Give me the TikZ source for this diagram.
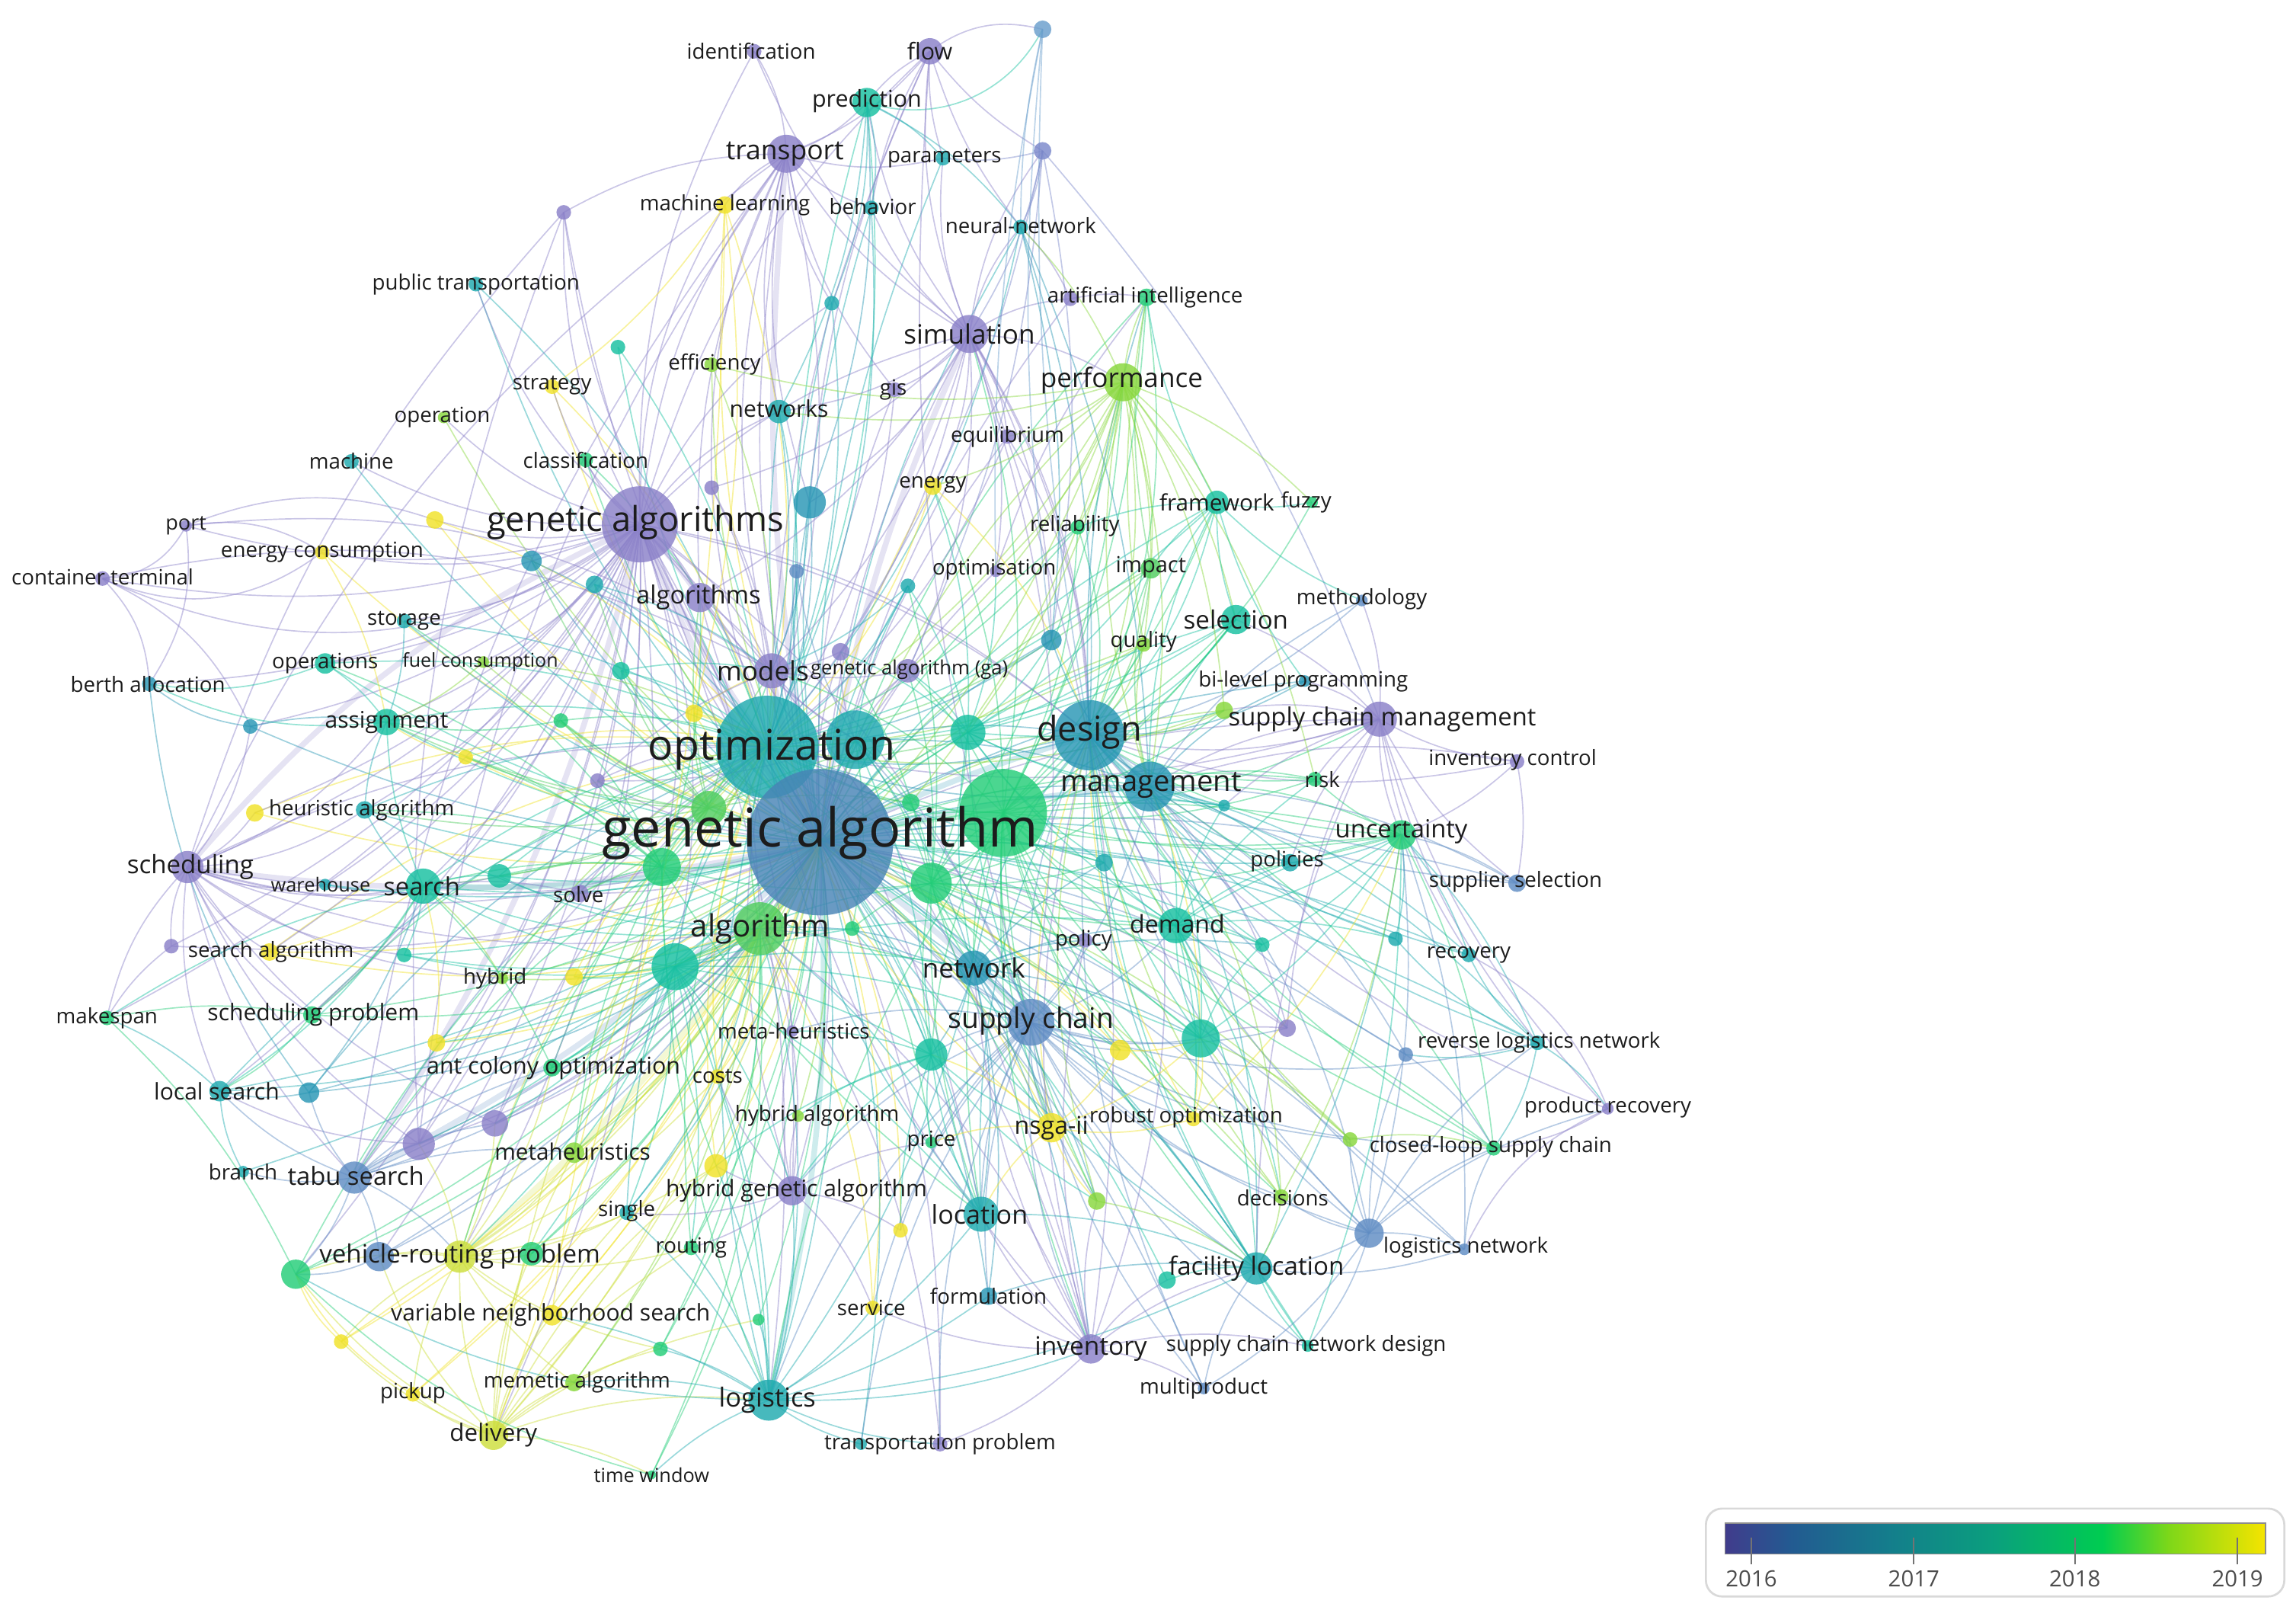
\documentclass[tikz,border=0pt]{standalone}
\usepackage{fontspec}
\setmainfont{Open Sans}
\pgfdeclarelayer{edges}
\pgfsetlayers{edges,main}
\definecolor{cP}{RGB}{138,128,200}
\definecolor{cP2}{RGB}{122,136,202}
\definecolor{cB}{RGB}{95,140,195}
\definecolor{cB2}{RGB}{105,158,204}
\definecolor{cGA}{RGB}{72,132,182}
\definecolor{cT}{RGB}{40,150,180}
\definecolor{cC}{RGB}{30,170,175}
\definecolor{cG1}{RGB}{22,192,160}
\definecolor{cG}{RGB}{35,205,120}
\definecolor{cGL}{RGB}{80,205,95}
\definecolor{cL}{RGB}{135,215,60}
\definecolor{cYL}{RGB}{205,222,60}
\definecolor{cY}{RGB}{240,226,40}
\definecolor{labtext}{RGB}{28,28,28}
\definecolor{s0}{RGB}{65,60,140}
\definecolor{s1}{RGB}{35,90,145}
\definecolor{s2}{RGB}{20,125,140}
\definecolor{s3}{RGB}{10,160,125}
\definecolor{s4}{RGB}{0,205,80}
\definecolor{s5}{RGB}{125,215,25}
\definecolor{s6}{RGB}{245,228,0}
\newcommand\kw[5]{\colorlet{k#1}{#5}\node[dot,minimum size=#4*0.04cm,fill=k#1] (#1) at (#2,#3) {};}
\newcommand\lb[5]{\node[lab,font=\fontsize{#4pt}{#4pt}\selectfont] (L#1) at (#2,#3) {#5};}
\newcommand\hub[3]{\foreach \q in {#3}{\draw[ed,draw=k\q] (#1.center) to[bend left=#2] (\q.center);}}
\newcommand\hubc[3]{\foreach \q in {#3}{\draw[ed,draw=k#1] (#1.center) to[bend left=#2] (\q.center);}}
\begin{document}
\begin{tikzpicture}[x=0.02cm,y=-0.02cm,
  dot/.style={circle,inner sep=0pt,draw=none,fill opacity=0.82},
  lab/.style={inner sep=0pt,text=labtext},
  ed/.style={line width=0.5pt,draw opacity=0.45},
  thk/.style={line width=2.2pt,draw opacity=0.22}]
\useasboundingbox (0,0) rectangle (1568,1099);
% ---------------- nodes ----------------
\kw{ident}{515}{35}{5}{cP}
\kw{flow}{635}{35}{9}{cP}
\kw{tr1}{712}{20}{6}{cB2}
\kw{pred}{592}{70}{10}{cG1}
\kw{transp}{537}{105}{13}{cP}
\kw{param}{644}{108}{5}{cC}
\kw{tr2}{712}{103}{6}{cP2}
\kw{ml}{495}{140}{6}{cY}
\kw{behav}{595}{142}{5}{cC}
\kw{neural}{697}{155}{5}{cC}
\kw{u1}{385}{145}{5}{cP}
\kw{pubt}{325}{194}{5}{cC}
\kw{u2}{568}{207}{5}{cC}
\kw{aip}{731}{204}{5}{cP}
\kw{ai}{783}{203}{6}{cG}
\kw{u3}{422}{237}{5}{cG1}
\kw{simul}{662}{228}{13}{cP}
\kw{effic}{486}{249}{5}{cL}
\kw{strat}{377}{264}{5}{cY}
\kw{gis}{611}{266}{5}{cP}
\kw{perf}{767}{261}{13}{cL}
\kw{operat}{303}{285}{4}{cL}
\kw{netw}{532}{281}{8}{cC}
\kw{equil}{688}{298}{5}{cP}
\kw{mach}{240}{315}{5}{cC}
\kw{classif}{400}{314}{5}{cG}
\kw{energy}{637}{332}{6}{cY}
\kw{u4}{486}{333}{5}{cP}
\kw{u5}{553}{343}{11}{cT}
\kw{frame}{831}{343}{8}{cG1}
\kw{fuzzy}{896}{343}{4}{cG}
\kw{port}{127}{359}{4}{cP}
\kw{u6}{297}{355}{6}{cY}
\kw{gas}{437}{358}{26}{cP}
\kw{reliab}{736}{360}{5}{cG}
\kw{encons}{220}{377}{5}{cY}
\kw{u7}{363}{383}{7}{cT}
\kw{cont}{70}{395}{5}{cP}
\kw{u8}{406}{399}{6}{cC}
\kw{u9}{544}{390}{5}{cB}
\kw{algs}{478}{408}{10}{cP}
\kw{optimB}{680}{390}{4}{cP}
\kw{impact}{786}{388}{7}{cGL}
\kw{u10}{620}{400}{5}{cC}
\kw{method}{930}{410}{4}{cB}
\kw{storage}{276}{424}{5}{cC}
\kw{select}{844}{423}{10}{cG1}
\kw{u11}{718}{437}{7}{cT}
\kw{quality}{781}{440}{5}{cL}
\kw{u12}{574}{445}{6}{cP}
\kw{opers}{222}{453}{7}{cG1}
\kw{fuel}{330}{452}{4}{cL}
\kw{u13}{424}{458}{6}{cG1}
\kw{models}{527}{458}{12}{cP}
\kw{gaga}{620}{458}{8}{cP}
\kw{berth}{102}{467}{5}{cT}
\kw{bilev}{891}{465}{4}{cT}
\kw{u14}{171}{496}{5}{cT}
\kw{assign}{264}{493}{9}{cG1}
\kw{u15}{383}{492}{5}{cG}
\kw{u16}{474}{487}{6}{cY}
\kw{opt}{524}{510}{35}{cC}
\kw{u17}{584}{505}{20}{cC}
\kw{u18}{661}{500}{12}{cG1}
\kw{design}{744}{502}{24}{cT}
\kw{u19}{836}{485}{6}{cL}
\kw{scm}{942}{491}{12}{cP}
\kw{invc}{1036}{520}{5}{cP}
\kw{u20}{318}{517}{5}{cY}
\kw{u21}{408}{533}{5}{cP}
\kw{ga}{560}{575}{50}{cGA}
\kw{u22}{685}{555}{30}{cG}
\kw{manag}{785}{537}{17}{cT}
\kw{u23}{836}{550}{4}{cC}
\kw{risk}{898}{532}{5}{cG}
\kw{heur}{249}{553}{6}{cC}
\kw{u24}{174}{555}{6}{cY}
\kw{u25}{484}{552}{12}{cGL}
\kw{u26}{622}{548}{6}{cG}
\kw{uncert}{957}{570}{10}{cG}
\kw{sched}{128}{592}{11}{cP}
\kw{wareh}{222}{604}{4}{cC}
\kw{search}{289}{605}{12}{cG1}
\kw{u27}{341}{598}{8}{cG1}
\kw{u28}{452}{592}{13}{cG}
\kw{solve}{396}{610}{6}{cP}
\kw{u29}{636}{603}{14}{cG}
\kw{polic}{881}{589}{6}{cC}
\kw{suppl}{1036}{603}{6}{cB}
\kw{u30}{754}{589}{6}{cC}
\kw{algo}{519}{634}{18}{cGL}
\kw{u31}{582}{634}{5}{cG}
\kw{u32}{461}{660}{16}{cG1}
\kw{policy}{741}{642}{5}{cP}
\kw{demand}{803}{632}{12}{cG1}
\kw{u33}{862}{645}{5}{cG1}
\kw{u34}{953}{641}{5}{cC}
\kw{recov}{1003}{652}{5}{cC}
\kw{u35}{117}{646}{5}{cP}
\kw{salg}{184}{650}{6}{cY}
\kw{u36}{276}{652}{5}{cG1}
\kw{hybr}{343}{668}{4}{cL}
\kw{u37}{392}{667}{6}{cY}
\kw{makes}{73}{695}{5}{cG}
\kw{schedp}{213}{693}{6}{cG}
\kw{network}{665}{661}{12}{cT}
\kw{u38}{820}{709}{13}{cG1}
\kw{sc}{704}{698}{16}{cB}
\kw{u39}{765}{717}{7}{cY}
\kw{u40}{879}{702}{6}{cP}
\kw{rln}{1050}{712}{5}{cC}
\kw{u41}{960}{720}{5}{cB}
\kw{metah}{541}{704}{4}{cP}
\kw{u42}{298}{712}{6}{cY}
\kw{aco}{377}{729}{6}{cG}
\kw{costs}{490}{735}{5}{cY}
\kw{u43}{636}{720}{11}{cG1}
\kw{locs}{150}{745}{7}{cC}
\kw{u44}{211}{746}{7}{cT}
\kw{prodr}{1098}{757}{4}{cP}
\kw{hyalg}{545}{762}{4}{cL}
\kw{robust}{815}{764}{5}{cY}
\kw{nsga}{718}{770}{10}{cY}
\kw{price}{636}{780}{4}{cG}
\kw{u45}{286}{781}{11}{cP}
\kw{u46}{338}{767}{9}{cP}
\kw{metas}{392}{787}{7}{cL}
\kw{clsc}{1020}{784}{5}{cG}
\kw{u47}{922}{778}{5}{cL}
\kw{branch}{166}{800}{4}{cC}
\kw{tabu}{242}{804}{11}{cB}
\kw{u48}{489}{796}{8}{cY}
\kw{hga}{541}{813}{10}{cP}
\kw{decis}{875}{817}{5}{cL}
\kw{u49}{749}{820}{6}{cL}
\kw{single}{428}{828}{5}{cC}
\kw{locat}{670}{829}{12}{cC}
\kw{u50}{935}{842}{10}{cB}
\kw{logn}{1000}{853}{4}{cB}
\kw{u51}{615}{840}{5}{cY}
\kw{routing}{472}{852}{5}{cG}
\kw{vrpb}{259}{858}{10}{cB}
\kw{vrp}{314}{858}{11}{cYL}
\kw{vrpg}{363}{856}{8}{cG}
\kw{u52}{202}{870}{10}{cG}
\kw{facil}{858}{866}{11}{cC}
\kw{u53}{797}{874}{6}{cG1}
\kw{formul}{675}{885}{6}{cT}
\kw{serv}{596}{893}{5}{cY}
\kw{vns}{377}{898}{7}{cY}
\kw{u54}{518}{901}{4}{cG}
\kw{u55}{451}{921}{5}{cG}
\kw{u56}{233}{916}{5}{cY}
\kw{inv}{745}{921}{10}{cP}
\kw{scnd}{893}{919}{4}{cG1}
\kw{memet}{392}{944}{6}{cL}
\kw{multi}{822}{948}{4}{cB}
\kw{pickup}{282}{952}{5}{cY}
\kw{logi}{525}{956}{14}{cC}
\kw{deliv}{337}{980}{10}{cYL}
\kw{tpc}{588}{986}{4}{cC}
\kw{tpp}{642}{986}{5}{cP}
\kw{timew}{445}{1007}{3}{cG}
% ---------------- labels ----------------
\lb{ident}{513}{35}{8.2}{identification}
\lb{flow}{635}{35}{9}{flow}
\lb{pred}{592}{69}{9}{prediction}
\lb{transp}{536}{105}{10.5}{transport}
\lb{param}{645}{108}{8.2}{parameters}
\lb{ml}{495}{140}{8.2}{machine learning}
\lb{behav}{596}{141}{8.2}{behavior}
\lb{neural}{697}{154}{8.2}{neural-network}
\lb{pubt}{325}{194}{8.2}{public transportation}
\lb{ai}{782}{203}{8.2}{artificial intelligence}
\lb{simul}{662}{228}{10.4}{simulation}
\lb{effic}{488}{249}{8.2}{efficiency}
\lb{strat}{377}{263}{8.2}{strategy}
\lb{gis}{610}{266}{8.2}{gis}
\lb{perf}{766}{260}{10.4}{performance}
\lb{operat}{302}{285}{8.2}{operation}
\lb{netw}{532}{279}{8.9}{networks}
\lb{equil}{688}{298}{8.2}{equilibrium}
\lb{mach}{240}{315}{8.2}{machine}
\lb{classif}{400}{314}{8.2}{classification}
\lb{energy}{637}{331}{8.2}{energy}
\lb{frame}{831}{343}{8.8}{framework}
\lb{fuzzy}{892}{343}{8.2}{fuzzy}
\lb{port}{127}{359}{8}{port}
\lb{gas}{434}{357}{13.4}{genetic algorithms}
\lb{reliab}{734}{359}{8.2}{reliability}
\lb{encons}{220}{377}{8.2}{energy consumption}
\lb{cont}{70}{394}{8.2}{container terminal}
\lb{algs}{477}{408}{9.7}{algorithms}
\lb{optimB}{679}{389}{8.2}{optimisation}
\lb{impact}{786}{387}{8.6}{impact}
\lb{method}{930}{409}{8.2}{methodology}
\lb{storage}{276}{424}{8.2}{storage}
\lb{select}{844}{423}{9.8}{selection}
\lb{quality}{781}{438}{8.2}{quality}
\lb{opers}{222}{453}{8.2}{operations}
\lb{fuel}{328}{452}{7.4}{fuel consumption}
\lb{models}{521}{458}{10.4}{models}
\lb{gaga}{621}{457}{7.6}{genetic algorithm (ga)}
\lb{berth}{101}{467}{8.2}{berth allocation}
\lb{bilev}{890}{465}{8.2}{bi-level programming}
\lb{assign}{264}{493}{8.9}{assignment}
\lb{opt}{527}{512}{16.4}{optimization}
\lb{design}{744}{500}{13.3}{design}
\lb{scm}{944}{491}{9.7}{supply chain management}
\lb{invc}{1033}{519}{8.2}{inventory control}
\lb{ga}{560}{569}{20.8}{genetic algorithm}
\lb{manag}{786}{536}{11.3}{management}
\lb{risk}{903}{532}{8.2}{risk}
\lb{heur}{247}{553}{8.2}{heuristic algorithm}
\lb{uncert}{957}{568}{9.7}{uncertainty}
\lb{sched}{130}{592}{9.8}{scheduling}
\lb{wareh}{219}{604}{7.5}{warehouse}
\lb{search}{288}{605}{9.7}{search}
\lb{solve}{395}{611}{8.2}{solve}
\lb{polic}{879}{588}{8.2}{policies}
\lb{suppl}{1035}{602}{8.2}{supplier selection}
\lb{algo}{519}{634}{11.9}{algorithm}
\lb{policy}{740}{642}{8.2}{policy}
\lb{demand}{804}{631}{9.5}{demand}
\lb{recov}{1003}{652}{8.2}{recovery}
\lb{salg}{185}{650}{8.2}{search algorithm}
\lb{hybr}{338}{668}{8.2}{hybrid}
\lb{makes}{73}{695}{8.2}{makespan}
\lb{schedp}{214}{693}{8.9}{scheduling problem}
\lb{network}{665}{661}{10.4}{network}
\lb{sc}{704}{697}{11}{supply chain}
\lb{rln}{1051}{712}{8.2}{reverse logistics network}
\lb{metah}{542}{704}{8.2}{meta-heuristics}
\lb{aco}{378}{729}{9}{ant colony optimization}
\lb{costs}{490}{735}{8.2}{costs}
\lb{locs}{148}{745}{8.9}{local search}
\lb{prodr}{1098}{756}{8.2}{product recovery}
\lb{hyalg}{558}{762}{8.2}{hybrid algorithm}
\lb{robust}{810}{763}{8.2}{robust optimization}
\lb{nsga}{718}{770}{9.5}{nsga-ii}
\lb{price}{636}{779}{8.2}{price}
\lb{metas}{391}{786}{8.8}{metaheuristics}
\lb{clsc}{1018}{783}{8.2}{closed-loop supply chain}
\lb{branch}{166}{800}{8.2}{branch}
\lb{tabu}{243}{803}{9.7}{tabu search}
\lb{hga}{544}{813}{8.9}{hybrid genetic algorithm}
\lb{decis}{876}{818}{8.2}{decisions}
\lb{single}{428}{827}{8.2}{single}
\lb{locat}{669}{829}{10.1}{location}
\lb{logn}{1001}{852}{8.2}{logistics network}
\lb{routing}{472}{852}{8.2}{routing}
\lb{vrp}{314}{858}{9.8}{vehicle-routing problem}
\lb{facil}{858}{866}{9.8}{facility location}
\lb{formul}{675}{885}{8.2}{formulation}
\lb{serv}{595}{893}{8.2}{service}
\lb{vns}{376}{898}{8.9}{variable neighborhood search}
\lb{inv}{745}{921}{9.9}{inventory}
\lb{scnd}{892}{919}{8.2}{supply chain network design}
\lb{memet}{394}{944}{8.2}{memetic algorithm}
\lb{multi}{822}{948}{8.2}{multiproduct}
\lb{pickup}{282}{951}{8.2}{pickup}
\lb{logi}{524}{956}{10.2}{logistics}
\lb{deliv}{337}{980}{9.3}{delivery}
\lb{tpp}{642}{986}{8.2}{transportation problem}
\lb{timew}{445}{1007}{7.5}{time window}
% ---------------- legend ----------------
\draw[draw=black!15,line width=0.8pt,rounded corners=0.22cm,fill=white] (1165,1030) rectangle (1560,1090);
\shade[left color=s0,right color=s1] (1178,1040) rectangle (1222.5,1061);
\shade[left color=s1,right color=s2] (1222,1040) rectangle (1289.5,1061);
\shade[left color=s2,right color=s3] (1289,1040) rectangle (1363,1061);
\shade[left color=s3,right color=s4] (1362.5,1040) rectangle (1436.5,1061);
\shade[left color=s4,right color=s5] (1436,1040) rectangle (1481,1061);
\shade[left color=s5,right color=s6] (1480.5,1040) rectangle (1547,1061);
\draw[black!45,line width=0.5pt] (1178,1040) rectangle (1547,1061);
\foreach \t/\yr in {1196/2016,1307/2017,1417/2018,1528/2019}{
  \draw[black!55,line width=0.5pt] (\t,1050) -- (\t,1068);
  \node[inner sep=0pt,text=black!70,font=\fontsize{8.7pt}{8.7pt}\selectfont] (y\yr) at (\t,1078) {\yr};
}
% ---------------- edges ----------------
\begin{pgfonlayer}{edges}
\draw[thk,draw=cC] (ga.center) to[bend left=5] (opt.center);
\draw[thk,draw=cP] (ga.center) to[bend left=8] (gas.center);
\draw[thk,draw=cG] (ga.center) to[bend left=5] (algo.center);
\draw[thk,draw=cG] (ga.center) to[bend left=5] (u22.center);
\draw[thk,draw=cT] (ga.center) to[bend left=5] (design.center);
\draw[thk,draw=cT] (ga.center) to[bend left=5] (manag.center);
\draw[thk,draw=cP] (ga.center) to[bend left=5] (models.center);
\draw[thk,draw=cP] (opt.center) to[bend left=5] (gas.center);
\draw[thk,draw=cP] (gas.center) to[bend left=5] (algs.center);
\draw[thk,draw=cB] (ga.center) to[bend left=5] (sc.center);
\draw[thk,draw=cP] (ga.center) to[bend left=10] (sched.center);
\draw[thk,draw=cG1] (ga.center) to[bend left=8] (search.center);
\draw[thk,draw=cB] (ga.center) to[bend left=8] (tabu.center);
\draw[thk,draw=cYL] (ga.center) to[bend left=8] (vrp.center);
\draw[thk,draw=cP] (ga.center) to[bend left=8] (simul.center);
\draw[thk,draw=cP] (ga.center) to[bend left=8] (transp.center);
\draw[thk,draw=cC] (ga.center) to[bend left=8] (logi.center);
\draw[thk,draw=cT] (design.center) to[bend left=5] (manag.center);
\draw[thk,draw=cP] (gas.center) to[bend right=12] (sched.center);
\draw[thk,draw=cP] (gas.center) to[bend left=10] (tabu.center);
\hub{ga}{12}{pred,transp,param,ml,behav,neural,u1,pubt,u2,aip,ai,u3,simul,effic,strat,gis,perf,operat,netw,equil,mach,classif,energy,u4,u5,frame,u6,gas,reliab,encons,u7,u8,u9,algs,optimB,impact,u10,storage,select,u11,quality,u12,opers,fuel,u13,models,gaga,bilev,u14,assign,u15,u16,u17,u18,design,u19,scm,u20,u21,u22,manag,u23,risk,heur,u24,u25,u26,uncert,sched,wareh,search,u27,u28,solve,u29,polic,suppl,u30,algo,u31,u32,policy,demand,u33,u34,recov,u35,salg,u36,hybr,u37,schedp,network,u38,sc,u39,u40,rln,u41,metah,u42,aco,costs,u43,locs,u44,hyalg,robust,nsga,price,u45,u46,metas,clsc,u47,branch,tabu,u48,hga,decis,u49,single,locat,u50,logn,u51,routing,vrpb,vrp,vrpg,u52,facil,u53,formul,serv,vns,u54,u55,u56,inv,scnd,memet,multi,pickup,logi,deliv,tpc,tpp,timew}
\hub{opt}{-14}{transp,pred,ml,behav,neural,pubt,u2,u3,simul,effic,strat,gis,perf,netw,equil,classif,energy,u4,u5,frame,u6,reliab,u7,u8,algs,impact,u10,storage,select,u11,quality,opers,fuel,u13,models,gaga,assign,u15,u16,design,u19,scm,u20,u21,u22,manag,heur,u24,u25,uncert,sched,search,u27,u28,solve,u29,polic,algo,u32,demand,salg,hybr,u37,schedp,network,sc,u38,aco,costs,locs,u44,nsga,u45,u46,metas,tabu,u48,hga,single,locat,routing,vrp,u52,facil,vns,inv,logi,deliv}
\hubc{gas}{15}{transp,ident,flow,u1,pubt,mach,port,cont,encons,u6,strat,operat,classif,storage,opers,fuel,berth,u14,assign,heur,u24,sched,wareh,search,salg,u35,makes,schedp,locs,tabu,u45,u46,vrpb,vrp,u52,deliv,hga,algs,models,simul,netw,u2,ml,design,manag,sc,locat,inv,logi,u28,u32,algo}
\hub{design}{-15}{perf,frame,select,impact,quality,reliab,ai,simul,bilev,scm,invc,risk,uncert,polic,suppl,demand,recov,rln,u41,clsc,u47,robust,nsga,facil,u50,logn,scnd,multi,inv,locat,network,sc,u38,decis,u49,method,prodr,u19,u23,u33,u34,u40,fuzzy,energy,equil}
\hub{algo}{14}{search,sched,schedp,heur,hybr,aco,costs,metah,metas,tabu,vrp,vrpb,vrpg,u52,vns,memet,pickup,deliv,routing,single,logi,hga,u45,u46,locs,u44,salg,u36,u42,u37,u27,timew,u55,u56,serv,locat,network,sc,inv,tpp}
\hubc{u22}{-12}{perf,ai,frame,select,impact,quality,reliab,energy,u19,scm,risk,uncert,demand,u38,nsga,robust,locat,network,sc,u39,facil,decis,u49,inv,logi,u29,u30,u43,clsc,gaga,models,simul}
\hub{manag}{14}{scm,invc,suppl,uncert,polic,risk,bilev,select,frame,perf,impact,quality,u11,demand,u38,rln,clsc,u40,u41,u50,facil,sc,inv,decis,robust,recov,method}
\hubc{sc}{-14}{u38,u39,u43,nsga,robust,locat,facil,inv,logi,formul,serv,price,u49,u51,decis,u50,clsc,rln,u40,u47,tpp,tpc,multi,scnd,demand,policy,network,hga,metah}
\hub{u17}{10}{models,gaga,u12,u10,u9,algs,u16,u21,u26,u29,u31,algo,u32,network,sc,u43,design,manag}
\hubc{u28}{-10}{search,heur,u27,solve,u25,u21,u20,u15,assign,opers,storage,models,algs,u18,u29,network,locat,logi,vrp,tabu,metas,u48}
\hubc{u32}{10}{search,u36,u37,u42,aco,costs,metas,u46,u45,vrp,vrpg,hga,single,routing,logi,u29,u31,network,sc,u43,locat,demand}
\hubc{u29}{-10}{u18,u26,u30,u31,demand,policy,network,sc,u43,nsga,u39,locat,design,manag,gaga,u12,u10,perf,select,uncert}
\hubc{u25}{10}{u13,u15,u16,u20,u21,models,algs,u8,u7,assign,heur,search,u27,solve,u18,u26,design}
\hubc{u18}{-10}{u11,gaga,u10,u12,optimB,energy,quality,impact,select,u19,manag,u23,u30,network,demand,sc}
\hubc{network}{10}{u30,u31,u43,demand,policy,u39,nsga,locat,formul,inv,facil,u49,u33,u38}
\hubc{u43}{-10}{u31,price,hyalg,metah,u48,u51,locat,nsga,u49,hga}
\hubc{demand}{10}{polic,u33,u34,u23,u30,u38,u40,uncert,risk,robust,decis,facil}
\hubc{simul}{14}{transp,flow,ident,pred,param,tr2,behav,neural,gis,equil,aip,perf,netw,optimB,energy,u4,u5,models,gaga,sc,inv,design,u11,algs}
\hubc{transp}{-14}{flow,ident,pred,u1,ml,behav,netw,u2,gis,u4,u5,models,algs,param,sched,tabu,u45}
\hub{pred}{12}{flow,param,behav,neural,netw,u2,u5}
\draw[ed,draw=kpred] (pred.center) to[bend right=40] (tr1.center);
\draw[ed,draw=kflow] (flow.center) to[bend left=25] (tr1.center);
\hubc{flow}{-10}{param,neural,tr2,behav,u5,models,sc}
\hubc{tr1}{-6}{u11,design,optimB,neural}
\hubc{tr2}{10}{param,neural,simul,u11,scm,gaga,u12}
\hub{neural}{10}{aip,perf,u11,design,manag}
\hub{ai}{-10}{perf,aip,frame,optimB,quality,impact,design}
\hubc{perf}{12}{frame,fuzzy,impact,quality,reliab,select,energy,u19,risk,u18,gaga,optimB,equil,netw,effic,manag,algo,u26}
\hubc{frame}{-10}{fuzzy,select,impact,reliab,quality,bilev,method}
\hubc{scm}{-12}{invc,method,bilev,risk,uncert,suppl,polic,u19,select,u23,recov,rln,prodr,facil,u40}
\hub{uncert}{10}{suppl,recov,rln,polic,risk,clsc,u34,u33,facil,logn,u50,demand,u38,decis,robust,scnd}
\hubc{invc}{10}{uncert,suppl}
\hubc{sched}{-15}{heur,u24,wareh,search,salg,u35,schedp,makes,assign,u14,hybr,u36,tabu,u45,u46,u27,u28,locs}
\hubc{cont}{-30}{port,gas,encons}
\hubc{cont}{20}{berth,u14,models}
\hubc{port}{20}{berth,encons,u6,models}
\hubc{u1}{-12}{sched,u45,algs}
\hubc{ml}{10}{deliv,strat,u16}
\hub{berth}{-15}{u14,assign,u44,opers}
\hub{makes}{10}{u35,schedp,locs,u52,search}
\hub{locs}{-12}{u44,branch,tabu,u45,schedp,search}
\hubc{tabu}{12}{branch,u45,u46,vrpb,vrp,u52,metas,u44,aco}
\hubc{vrp}{-12}{vrpb,vrpg,u52,u56,pickup,deliv,memet,vns,routing,single,u55,metas,aco,u46,u45,u48,costs}
\hubc{deliv}{12}{pickup,memet,vns,u56,u52,u55,routing,single,timew,logi,u54,u48,vrpb,vrpg,metas}
\hub{u52}{-14}{pickup,u56,vrpb,timew,logi}
\hubc{logi}{-10}{single,routing,u54,u55,timew,serv,formul,tpc,tpp,inv,locat,hga,u48,costs,facil,network,memet,vns}
\hubc{inv}{12}{formul,tpp,multi,scnd,facil,locat,u53,u49,serv,network,policy}
\hub{facil}{-12}{u53,scnd,multi,logn,u50,decis,u49,locat,formul}
\hubc{u50}{12}{logn,decis,u47,clsc,prodr,rln,u41,u38,scnd,multi}
\hub{clsc}{-12}{u47,prodr,rln,logn,u41}
\hubc{rln}{12}{u41,prodr,recov,u34}
\hubc{prodr}{-20}{logn,recov}
\hub{u38}{12}{u39,nsga,robust,u47,decis,u40,demand,u33}
\hubc{nsga}{-12}{robust,u39,u49,u43,price,locat}
\hubc{hga}{12}{metah,hyalg,u48,single,routing,costs,price,u51,serv}
\hub{models}{-10}{u12,gaga,u9,u10,u13,u16,u21,algs,netw,u4,u5,u8}
\hub{search}{10}{heur,wareh,u27,u36,salg,schedp,assign,hybr,u42,u44,aco,solve}
\hub{assign}{-10}{opers,storage,fuel,heur,u14,u20,u15,encons}
\end{pgfonlayer}
\end{tikzpicture}
\end{document}
